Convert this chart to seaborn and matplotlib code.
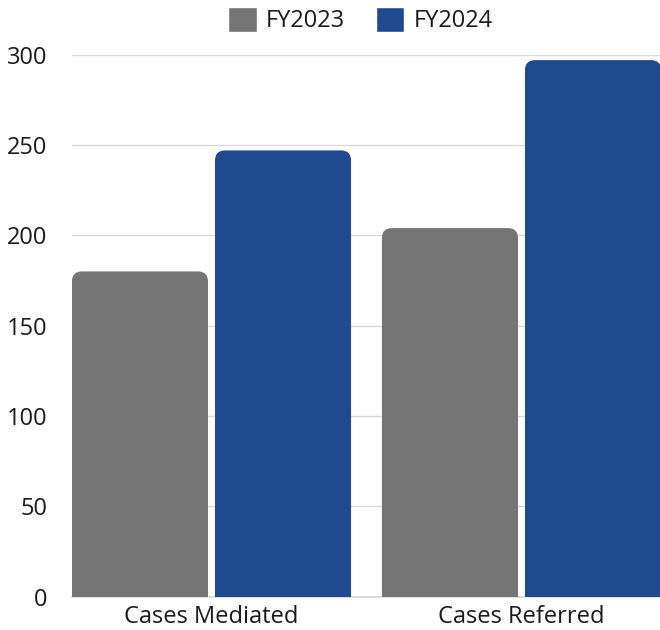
import pandas as pd
import matplotlib.pyplot as plt
import seaborn as sns
from matplotlib.patches import FancyBboxPatch

# Data
categories = ['Cases Mediated', 'Cases Referred']
years = ['FY2023', 'FY2024']
fy2023 = [180, 204]
fy2024 = [247, 297]
colors = ['#757575', '#1F4991']

df = pd.DataFrame({
    'Category': categories * 2,
    'Year': [years[0]] * 2 + [years[1]] * 2,
    'Cases': fy2023 + fy2024,
})

sns.set_theme(style='white')
plt.rcParams['font.family'] = ['Open Sans', 'DejaVu Sans']

fig = plt.figure(figsize=(6.6, 6.3), dpi=100)
ax = fig.add_axes([72 / 660, 33.5 / 630, 589 / 660, 541.8 / 630])

sns.barplot(data=df, x='Category', y='Cases', hue='Year', palette=colors,
            width=0.923, gap=0.049, ax=ax, saturation=1, zorder=3)

ax.set_xlim(-0.45, 1.45)
ax.set_ylim(0, 300)
ax.set_yticks(range(0, 301, 50))
ax.grid(axis='y', color='#d9d9d9', linewidth=1, zorder=0)
ax.set_xlabel('')
ax.set_ylabel('')
for s in ['top', 'right', 'left']:
    ax.spines[s].set_visible(False)
ax.spines['bottom'].set_color('#d9d9d9')
ax.tick_params(axis='both', length=0, labelsize=17, colors='#1a1a1a')
ax.tick_params(axis='y', pad=18)
ax.tick_params(axis='x', pad=6)

# swap plain bars for top-rounded ones
fig.canvas.draw()
bbox = ax.get_window_extent()
px_x = bbox.width / (ax.get_xlim()[1] - ax.get_xlim()[0])
px_y = bbox.height / (ax.get_ylim()[1] - ax.get_ylim()[0])
aspect = px_x / px_y
r = 10 / px_x
for p in list(ax.patches):
    x, w, h = p.get_x(), p.get_width(), p.get_height()
    if h <= 0:
        continue
    fb = FancyBboxPatch((x, -r * aspect), w, h + r * aspect,
                        boxstyle=f'round,pad=0,rounding_size={r}',
                        mutation_aspect=aspect, facecolor=p.get_facecolor(),
                        edgecolor='none', zorder=3, clip_on=True)
    p.set_visible(False)
    ax.add_patch(fb)

handles, labels = ax.get_legend_handles_labels()
ax.legend(handles, labels, loc='lower center', bbox_to_anchor=(0.49, 1.0),
          ncol=2, frameon=False, fontsize=17, handlelength=1.2, handleheight=1.25,
          columnspacing=1.3, handletextpad=0.4, borderaxespad=0.5,
          labelcolor='#1a1a1a')

fig.savefig('out.png', dpi=100)
